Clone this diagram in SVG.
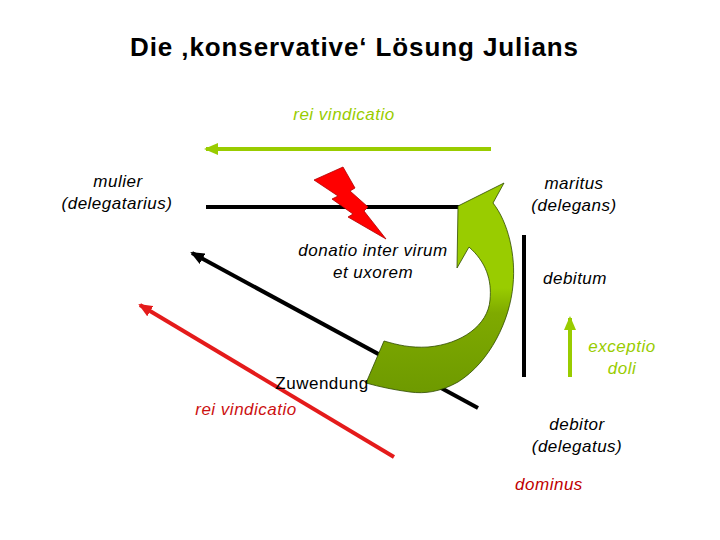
<svg xmlns="http://www.w3.org/2000/svg" width="720" height="540" viewBox="0 0 720 540">
<style>
text{font-family:"Liberation Sans",Arial,sans-serif;font-size:17px;letter-spacing:0.5px;text-anchor:middle}
.it{font-style:italic}
.blk{fill:#000}
.grn{fill:#99CC00}
.red{fill:#CC1111}
.ttl{font-size:26px;font-weight:bold;letter-spacing:0}
.ln{fill:none;stroke-width:4}
</style>
<defs>
<marker id="ahG" markerUnits="userSpaceOnUse" markerWidth="16" markerHeight="12" refX="12" refY="6" orient="auto"><path d="M14,6 L0,0 L0,12 Z" fill="#99CC00"/></marker>
<marker id="ahK" markerUnits="userSpaceOnUse" markerWidth="16" markerHeight="12" refX="12" refY="6" orient="auto"><path d="M14,6 L0,0 L0,12 Z" fill="#000"/></marker>
<marker id="ahR" markerUnits="userSpaceOnUse" markerWidth="16" markerHeight="12" refX="12" refY="6" orient="auto"><path d="M14,6 L0,0 L0,12 Z" fill="#E41B1B"/></marker>
<linearGradient id="gc" x1="0" y1="0" x2="0" y2="1">
<stop offset="0" stop-color="#99CC00"/>
<stop offset="0.5" stop-color="#99CC00"/>
<stop offset="0.62" stop-color="#7FAA00"/>
<stop offset="1" stop-color="#6E9A00"/>
</linearGradient>
</defs>
<text class="ttl" x="354" y="56" textLength="448" lengthAdjust="spacing">Die ‚konservative‘ Lösung Julians</text>
<g id="connectors">
<line class="ln" x1="491" y1="149" x2="206" y2="149" stroke="#99CC00" marker-end="url(#ahG)"/>
<line class="ln" x1="206" y1="207" x2="462" y2="207" stroke="#000"/>
<line class="ln" x1="478" y1="408" x2="192" y2="253" stroke="#000" marker-end="url(#ahK)"/>
<line class="ln" x1="394" y1="457" x2="140" y2="305" stroke="#E41B1B" marker-end="url(#ahR)"/>
<line class="ln" x1="524" y1="235" x2="524" y2="377" stroke="#000"/>
<line class="ln" x1="570" y1="377" x2="570" y2="318" stroke="#99CC00" marker-end="url(#ahG)"/>
</g>
<g id="bolt">
<path d="M314,180 L343,167 L355,188 L350,191 L368,207 L364,211 L386,239 L348,217 L353,214 L332,199 L338,196 Z" fill="#FF0000" stroke="#B00000" stroke-width="0.8"/>
</g>
<g id="curved-arrow">
<path d="M458,206 L504,183 L493,203 C508,222 516,255 513,285 C510,320 490,362 458,382 C440,392 425,394 410,392 C395,390 380,387 366,383 L384,341 C398,345 410,348 428,347 C462,344 488,325 490,300 C492,280 486,262 469,247 L457,268 Z" fill="url(#gc)" stroke="#2E4A00" stroke-width="0.8"/>
</g>
<g id="title-rv"><text class="it grn" x="344" y="120">rei vindicatio</text></g>
<g id="mulier"><text class="it blk" x="118" y="187">mulier</text><text class="it blk" x="117" y="209">(delegatarius)</text></g>
<g id="maritus"><text class="it blk" x="574" y="189">maritus</text><text class="it blk" x="574" y="211">(delegans)</text></g>
<g id="donatio"><text class="it blk" x="373" y="256">donatio inter virum</text><text class="it blk" x="373" y="278">et uxorem</text></g>
<g id="debitum"><text class="it blk" x="575" y="284">debitum</text></g>
<g id="exceptio"><text class="it grn" x="622" y="352">exceptio</text><text class="it grn" x="622" y="374">doli</text></g>
<g id="zuwendung"><text class="blk" x="322" y="389">Zuwendung</text></g>
<g id="rv2"><text class="it red" x="246" y="415">rei vindicatio</text></g>
<g id="debitor"><text class="it blk" x="577" y="430">debitor</text><text class="it blk" x="577" y="452">(delegatus)</text></g>
<g id="dominus"><text class="it" x="549" y="490" fill="#C00000">dominus</text></g>
</svg>
